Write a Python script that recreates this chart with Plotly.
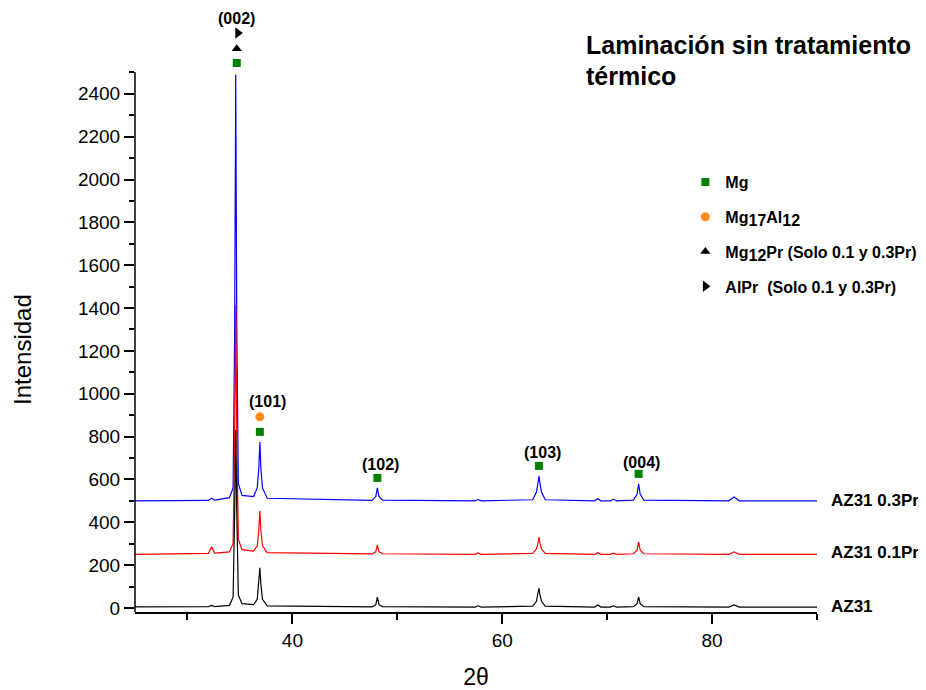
import plotly.graph_objects as go

# ---------------- data ----------------
two_theta = [25.0, 32.0, 32.3, 32.6, 34.0, 34.35, 34.5, 34.6, 34.7, 34.85, 35.2,
             36.3, 36.65, 36.8, 36.9, 37.0, 37.15, 37.6,
             47.6, 47.95, 48.1, 48.25, 48.6,
             57.4, 57.7, 58.0,
             62.9, 63.25, 63.4, 63.5, 63.6, 63.75, 64.1,
             68.8, 69.1, 69.4, 70.3, 70.6, 70.9,
             72.5, 72.85, 73.0, 73.15, 73.5,
             81.6, 82.1, 82.6, 90.0]

az31_03pr = [500, 502, 512, 503, 515, 560, 1300, 2490, 1300, 580, 525,
             520, 560, 650, 775, 650, 560, 512,
             502, 520, 560, 520, 503,
             500, 506, 500,
             505, 540, 580, 616, 580, 540, 505,
             500, 510, 500, 500, 507, 500,
             503, 530, 579, 530, 503,
             500, 518, 500, 500]

az31_01pr = [250, 255, 285, 256, 262, 300, 800, 1415, 800, 320, 272,
             265, 290, 360, 453, 360, 290, 258,
             252, 262, 294, 262, 253,
             250, 257, 250,
             255, 275, 300, 331, 300, 275, 255,
             250, 258, 250, 250, 256, 250,
             253, 270, 308, 270, 253,
             250, 262, 250, 250]

az31 = [5, 6, 12, 6, 12, 50, 450, 831, 450, 60, 20,
        15, 40, 110, 187, 110, 40, 10,
        5, 15, 51, 15, 6,
        4, 10, 4,
        8, 30, 60, 93, 60, 30, 8,
        4, 14, 4, 4, 10, 4,
        6, 20, 51, 20, 6,
        4, 14, 4, 4]

series_names = ["AZ31 0.3Pr", "AZ31 0.1Pr", "AZ31"]
series_label_y = [500, 257, 9]

# phase markers
mg_x = [34.7, 36.9, 48.1, 63.5, 73.0]
mg_y = [2544, 822, 607, 663, 626]
mg17al12_x = [36.9]
mg17al12_y = [892]
mg12pr_x = [34.7]
mg12pr_y = [2610]
alpr_x = [34.8]
alpr_y = [2684]

# Miller index labels
hkl_labels = ["(002)", "(101)", "(102)", "(103)", "(004)"]
hkl_x = [34.67, 37.6, 48.4, 63.8, 73.3]
hkl_y = [2754, 962, 668, 724, 677]

# axis ticks
y_major_ticks = [0, 200, 400, 600, 800, 1000, 1200, 1400, 1600, 1800, 2000, 2200, 2400]
y_minor_ticks = [100, 300, 500, 700, 900, 1100, 1300, 1500, 1700, 1900, 2100, 2300, 2500]
y_axis_extent = [-19, 2502]

FONT = "Liberation Sans, Arial, sans-serif"

fig = go.Figure()

for yv, col, name in zip([az31_03pr, az31_01pr, az31], ["#0000ff", "#ff0000", "#000000"], series_names):
    fig.add_trace(go.Scatter(x=two_theta, y=yv, mode="lines", name=name,
                             line=dict(color=col, width=1.2), showlegend=False))

fig.add_trace(go.Scatter(x=mg_x, y=mg_y, mode="markers", name="Mg", legendgroup="a",
                         marker=dict(symbol="square", color="#008000", size=8)))
fig.add_trace(go.Scatter(x=mg17al12_x, y=mg17al12_y, mode="markers",
                         name="Mg<sub><span style='font-size:16px'>17</span></sub>Al<sub><span style='font-size:16px'>12</span></sub>",
                         legendgroup="b",
                         marker=dict(symbol="circle", color="#ff8c1a", size=9)))
fig.add_trace(go.Scatter(x=mg12pr_x, y=mg12pr_y, mode="markers",
                         name="Mg<sub><span style='font-size:16px'>12</span></sub>Pr (Solo 0.1 y 0.3Pr)",
                         legendgroup="c",
                         marker=dict(symbol="triangle-up", color="#000000", size=9)))
fig.add_trace(go.Scatter(x=alpr_x, y=alpr_y, mode="markers",
                         name="AlPr  (Solo 0.1 y 0.3Pr)", legendgroup="d",
                         marker=dict(symbol="triangle-right", color="#000000", size=10)))

for t, xx, yy in zip(hkl_labels, hkl_x, hkl_y):
    fig.add_annotation(x=xx, y=yy, xref="x", yref="y", text="<b>%s</b>" % t,
                       showarrow=False, font=dict(family=FONT, size=16, color="black"))

for t, yy in zip(series_names, series_label_y):
    fig.add_annotation(x=1.0, y=yy, xref="paper", yref="y", text="<b>%s</b>" % t,
                       xanchor="left", xshift=12, showarrow=False,
                       font=dict(family=FONT, size=17, color="black"))

fig.add_annotation(x=0.659, y=0.945, xref="paper", yref="paper", text="<b>Laminación sin tratamiento</b>",
                   xanchor="left", yanchor="middle", showarrow=False,
                   font=dict(family=FONT, size=25, color="black"))
fig.add_annotation(x=0.659, y=0.893, xref="paper", yref="paper", text="<b>térmico</b>",
                   xanchor="left", yanchor="middle", showarrow=False,
                   font=dict(family=FONT, size=25, color="black"))

# y-axis title, centred on the visible axis frame
fig.add_annotation(x=-0.164, y=0.437, xref="paper", yref="paper", text="Intensidad",
                   textangle=-90, showarrow=False, xanchor="center", yanchor="middle",
                   font=dict(family=FONT, size=24, color="black"))

# left axis line only up to the top of the original frame
fig.add_shape(type="line", xref="paper", yref="y", x0=0, x1=0,
              y0=y_axis_extent[0], y1=y_axis_extent[1], line=dict(color="black", width=1.5))

fig.update_layout(
    width=926, height=690,
    margin=dict(l=127, r=116.5, t=4, b=86),
    paper_bgcolor="white", plot_bgcolor="white",
    font=dict(family=FONT, color="black"),
    legend=dict(x=0.807, y=0.745, xanchor="left", yanchor="top",
                bgcolor="rgba(0,0,0,0)", traceorder="grouped", tracegroupgap=11,
                font=dict(family=FONT, size=16, color="black", weight="bold")),
    xaxis=dict(range=[25, 90], showline=True, linecolor="black", linewidth=1.5,
               showgrid=False, zeroline=False, ticks="outside", ticklen=10, tickwidth=1.5,
               tickcolor="black", dtick=20, tick0=0,
               minor=dict(dtick=10, ticks="outside", ticklen=6, tickwidth=1.5, tickcolor="black"),
               tickfont=dict(family=FONT, size=19, color="black"),
               title=dict(text="2θ", font=dict(family=FONT, size=23, color="black"), standoff=19)),
    yaxis=dict(range=[-19, 2782], showline=False,
               showgrid=False, zeroline=False, ticks="outside", ticklen=10, tickwidth=1.5,
               tickcolor="black", tickmode="array", tickvals=y_major_ticks,
               minor=dict(tickmode="array", tickvals=y_minor_ticks, ticks="outside", ticklen=5,
                          tickwidth=1.5, tickcolor="black"),
               tickfont=dict(family=FONT, size=19, color="black")),
)

fig.write_html("out.html")
